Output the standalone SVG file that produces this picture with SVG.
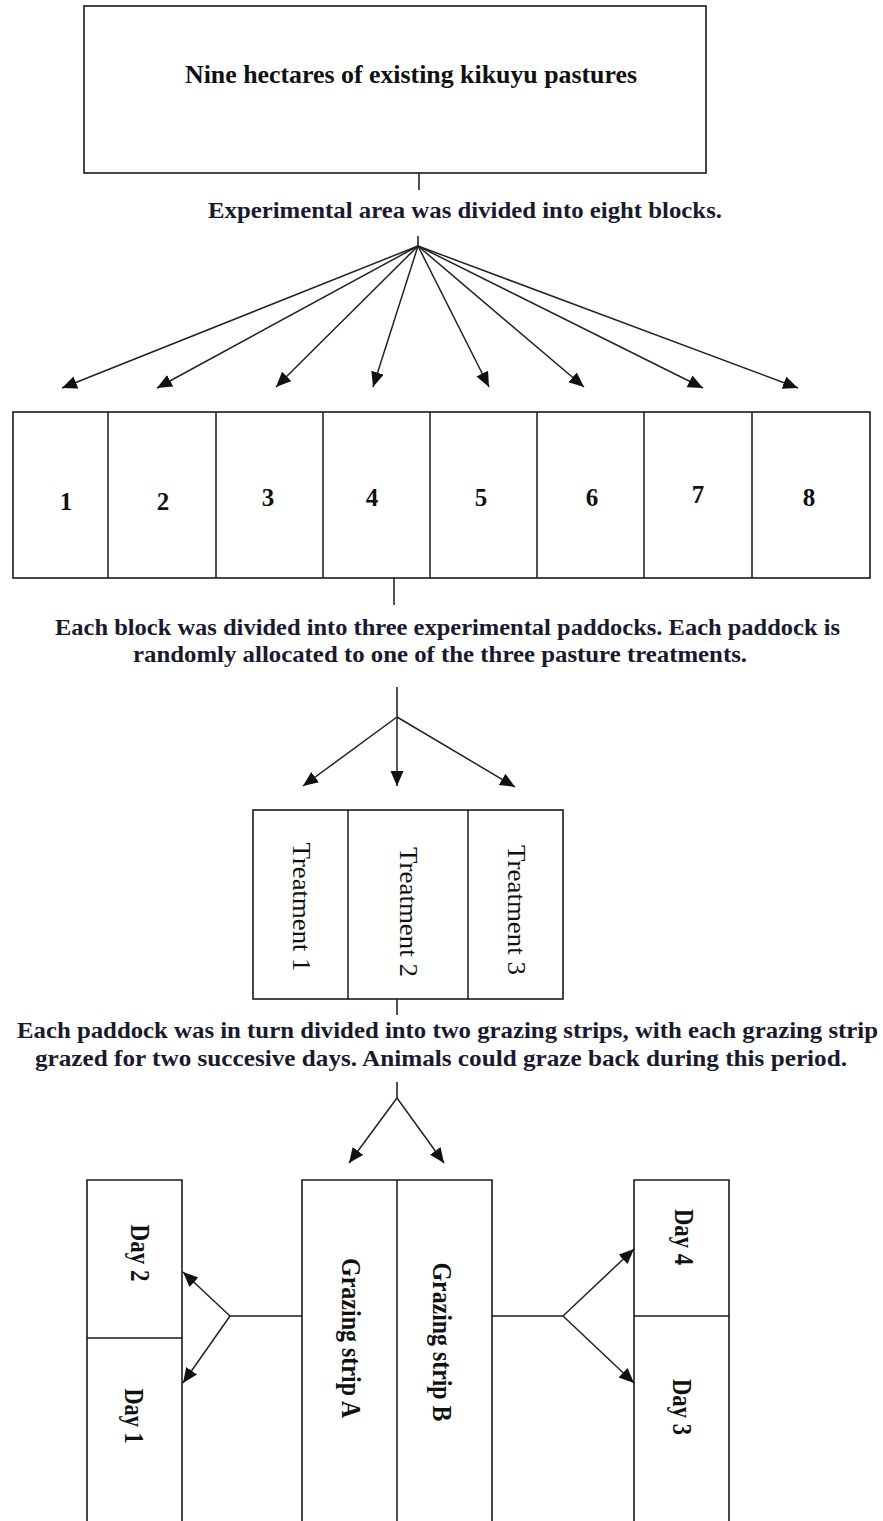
<svg xmlns="http://www.w3.org/2000/svg" width="883" height="1521" viewBox="0 0 883 1521">
<defs>
<marker id="ah" markerUnits="userSpaceOnUse" markerWidth="16" markerHeight="14" refX="15" refY="6.5" orient="auto">
<path d="M0,0 L15,6.5 L0,13 z" fill="#111"/>
</marker>
<style>
.box{fill:#fff;stroke:#1a1a1a;stroke-width:1.6}
.ln{fill:none;stroke:#1a1a1a;stroke-width:1.5}
.ar{fill:none;stroke:#222;stroke-width:1.5;marker-end:url(#ah)}
.t{font-family:"Liberation Serif","Times New Roman",serif;font-weight:bold;fill:#111}
.p{font-family:"Liberation Serif","Times New Roman",serif;font-weight:bold;font-size:24px;fill:#1a1a2e}
.n{font-family:"Liberation Serif","Times New Roman",serif;font-weight:bold;font-size:25px;fill:#111;text-anchor:middle}
.v{font-family:"Liberation Serif","Times New Roman",serif;font-weight:bold;font-size:27px;fill:#111;text-anchor:middle}
.tr{font-family:"Liberation Serif","Times New Roman",serif;font-size:26px;fill:#111;text-anchor:middle}
</style>
</defs>
<rect width="883" height="1521" fill="#fff"/>

<g id="pasture">
<rect class="box" x="84" y="6" width="622" height="167"/>
<text class="t" x="185" y="83" font-size="26" textLength="452" lengthAdjust="spacingAndGlyphs">Nine hectares of existing kikuyu pastures</text>
</g>

<g id="label-blocks">
<text class="p" x="208" y="218" textLength="514" lengthAdjust="spacingAndGlyphs">Experimental area was divided into eight blocks.</text>
</g>

<g id="blocks">
<rect class="box" x="13" y="412" width="857" height="166"/>
<path class="ln" d="M108,412V578M216,412V578M323,412V578M430,412V578M537,412V578M644,412V578M752,412V578"/>
<text class="n" x="66" y="510">1</text>
<text class="n" x="163" y="510">2</text>
<text class="n" x="268" y="506">3</text>
<text class="n" x="372" y="506">4</text>
<text class="n" x="481" y="506">5</text>
<text class="n" x="592" y="506">6</text>
<text class="n" x="698" y="503">7</text>
<text class="n" x="809" y="506">8</text>
</g>

<g id="label-paddocks">
<text class="p" x="55" y="635" textLength="785" lengthAdjust="spacingAndGlyphs">Each block was divided into three experimental paddocks. Each paddock is</text>
<text class="p" x="133" y="662" textLength="614" lengthAdjust="spacingAndGlyphs">randomly allocated to one of the three pasture treatments.</text>
</g>

<g id="treatments">
<rect class="box" x="253" y="810" width="310" height="189"/>
<path class="ln" d="M348,810V999M468,810V999"/>
<text class="tr" transform="translate(293,907) rotate(90)" textLength="129" lengthAdjust="spacingAndGlyphs">Treatment 1</text>
<text class="tr" transform="translate(400,912) rotate(90)" textLength="130" lengthAdjust="spacingAndGlyphs">Treatment 2</text>
<text class="tr" transform="translate(508,910) rotate(90)" textLength="130" lengthAdjust="spacingAndGlyphs">Treatment 3</text>
</g>

<g id="label-strips">
<text class="p" x="17" y="1038" textLength="861" lengthAdjust="spacingAndGlyphs">Each paddock was in turn divided into two grazing strips, with each grazing strip</text>
<text class="p" x="35" y="1066" textLength="812" lengthAdjust="spacingAndGlyphs">grazed for two succesive days. Animals could graze back during this period.</text>
</g>

<g id="strips">
<path class="box" d="M302,1530V1180H492V1530"/>
<path class="ln" d="M397,1180V1530"/>
<text class="v" transform="translate(342,1338) rotate(90)" textLength="160" lengthAdjust="spacingAndGlyphs">Grazing strip A</text>
<text class="v" transform="translate(433,1342) rotate(90)" textLength="159" lengthAdjust="spacingAndGlyphs">Grazing strip B</text>
</g>

<g id="days-left">
<path class="box" d="M87,1530V1180H182V1530"/>
<path class="ln" d="M87,1338H182"/>
<text class="v" transform="translate(131,1253) rotate(90)" textLength="57" lengthAdjust="spacingAndGlyphs">Day 2</text>
<text class="v" transform="translate(125,1416) rotate(90)" textLength="55" lengthAdjust="spacingAndGlyphs">Day 1</text>
</g>

<g id="days-right">
<path class="box" d="M634,1530V1180H729V1530"/>
<path class="ln" d="M634,1316H729"/>
<text class="v" transform="translate(675,1237) rotate(90)" textLength="56" lengthAdjust="spacingAndGlyphs">Day 4</text>
<text class="v" transform="translate(673,1407) rotate(90)" textLength="56" lengthAdjust="spacingAndGlyphs">Day 3</text>
</g>

<g id="connectors">
<path class="ln" d="M419,173V190M418,236V246"/>
<line class="ar" x1="418" y1="246" x2="62" y2="388"/>
<line class="ar" x1="418" y1="246" x2="157" y2="388"/>
<line class="ar" x1="418" y1="246" x2="276" y2="387"/>
<line class="ar" x1="418" y1="246" x2="373" y2="387"/>
<line class="ar" x1="418" y1="246" x2="489" y2="387"/>
<line class="ar" x1="418" y1="246" x2="584" y2="387"/>
<line class="ar" x1="418" y1="246" x2="703" y2="388"/>
<line class="ar" x1="418" y1="246" x2="798" y2="388"/>
<path class="ln" d="M394,578V605M397,687V717"/>
<line class="ar" x1="397" y1="717" x2="303" y2="786"/>
<line class="ar" x1="397" y1="717" x2="397" y2="786"/>
<line class="ar" x1="397" y1="717" x2="515" y2="787"/>
<path class="ln" d="M397,999V1015M397,1082V1098"/>
<line class="ar" x1="397" y1="1098" x2="349" y2="1163"/>
<line class="ar" x1="397" y1="1098" x2="444" y2="1163"/>
<path class="ln" d="M302,1316H230"/>
<line class="ar" x1="230" y1="1316" x2="183" y2="1272"/>
<line class="ar" x1="230" y1="1316" x2="183" y2="1383"/>
<path class="ln" d="M492,1316H563"/>
<line class="ar" x1="563" y1="1316" x2="634" y2="1249"/>
<line class="ar" x1="563" y1="1316" x2="634" y2="1383"/>
</g>
</svg>
